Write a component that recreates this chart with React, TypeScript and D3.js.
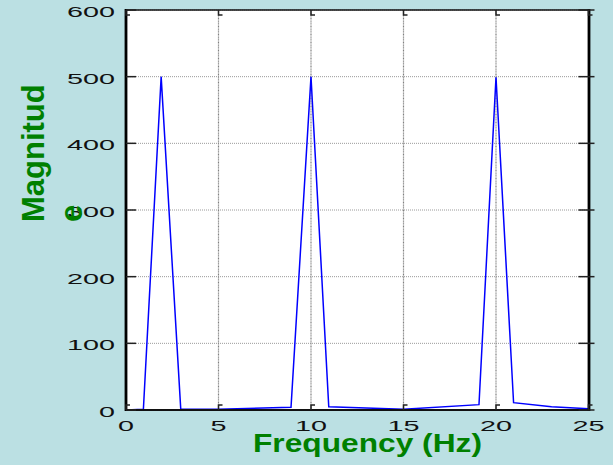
import React from "react";
import * as d3 from "d3";

const freq = [0, 0.94, 1.9, 2.96, 5, 8.92, 10, 10.96, 15, 19.08, 20, 20.95, 23, 25];
const magnitude = [0, 1, 500, 1, 1, 4, 500, 5, 1, 8, 499, 11, 5, 2];
const xTicks = [0, 5, 10, 15, 20, 25];
const yTicks = [0, 100, 200, 300, 400, 500, 600];
const xTitle = "Frequency (Hz)";
const yTitleLines = ["Magnitud", "e"];

const W = 613;
const H = 465;
const FONT = "'Liberation Sans', Arial, Helvetica, sans-serif";

export default function App() {
  const x = d3.scaleLinear().domain([0, 25]).range([126, 588.5]);
  const y = d3.scaleLinear().domain([0, 600]).range([410, 10]);
  const line = d3
    .line<number>()
    .x((_, i) => x(freq[i]))
    .y((d) => y(d));
  const x0 = x(0), x1 = x(25), y0 = y(0), y1 = y(600);
  return (
    <div style={{ position: "fixed", left: 0, top: 0 }}>
      <svg width={W} height={H} style={{ display: "block" }}>
        <rect x={0} y={0} width={W} height={H} fill="rgb(187,224,227)" />
        <rect x={x0} y={y1} width={x1 - x0} height={y0 - y1} fill="#fff" />
        {/* horizontal grid */}
        {yTicks.slice(1).map((t) => (
          <line key={"hg" + t} x1={x0} x2={x1} y1={y(t)} y2={y(t)} stroke="#9a9a9a" strokeWidth={1} strokeDasharray="1,1" />
        ))}
        {/* vertical grid */}
        {xTicks.slice(1, -1).map((t) => (
          <line key={"vg" + t} x1={x(t)} x2={x(t)} y1={y1} y2={y0} stroke="#808080" strokeWidth={1.2} strokeDasharray="1,0.6" />
        ))}
        {/* data line */}
        <path d={line(magnitude) || ""} fill="none" stroke="#0000ff" strokeWidth={1.5} />
        {/* axes frame */}
        <line x1={x0} x2={x1 + 1} y1={y1} y2={y1} stroke="#111" strokeWidth={1.6} />
        <line x1={x0 - 1} x2={x1 + 1.5} y1={y0} y2={y0} stroke="#111" strokeWidth={2} />
        <line x1={x0} x2={x0} y1={y1 - 1} y2={y0 + 1} stroke="#000" strokeWidth={2.8} />
        <line x1={x1 + 0.5} x2={x1 + 0.5} y1={y1 - 1} y2={y0 + 1} stroke="#000" strokeWidth={2.8} />
        {/* y ticks */}
        {yTicks.map((t) => (
          <g key={"yt" + t}>
            <line x1={x0} x2={x0 + 10} y1={y(t)} y2={y(t)} stroke="#222" strokeWidth={1.5} />
            <line x1={x1 - 10} x2={x1 + 6} y1={y(t)} y2={y(t)} stroke="#222" strokeWidth={1.5} />
            <text
              x={115}
              y={y(t) + 7}
              textAnchor="end"
              fontFamily={FONT}
              fontSize={14}
              fill="#111"
              textLength={String(t).length * 16}
              lengthAdjust="spacingAndGlyphs"
            >
              {t}
            </text>
          </g>
        ))}
        {/* x ticks */}
        {xTicks.map((t) => (
          <g key={"xt" + t}>
            <path d={`M${x(t)},${y0} V${y0 - 5} h4`} fill="none" stroke="#222" strokeWidth={1.5} />
            <path d={`M${x(t)},${y1} V${y1 + 5} h4`} fill="none" stroke="#222" strokeWidth={1.5} />
            <text
              x={x(t)}
              y={431}
              textAnchor="middle"
              fontFamily={FONT}
              fontSize={14}
              fill="#111"
              textLength={String(t).length * 16}
              lengthAdjust="spacingAndGlyphs"
            >
              {t}
            </text>
          </g>
        ))}
        {/* axis titles */}
        <text
          x={253}
          y={452}
          fontFamily={FONT}
          fontWeight="bold"
          fontSize={25}
          fill="#008000"
          textLength={229}
          lengthAdjust="spacingAndGlyphs"
        >
          {xTitle}
        </text>
        {yTitleLines.map((s, i) => (
          <text
            key={"yl" + i}
            transform={`translate(${44 + i * 38},222) rotate(-90)`}
            fontFamily={FONT}
            fontWeight="bold"
            fontSize={31}
            fill="#008000"
          >
            {s}
          </text>
        ))}
      </svg>
    </div>
  );
}
